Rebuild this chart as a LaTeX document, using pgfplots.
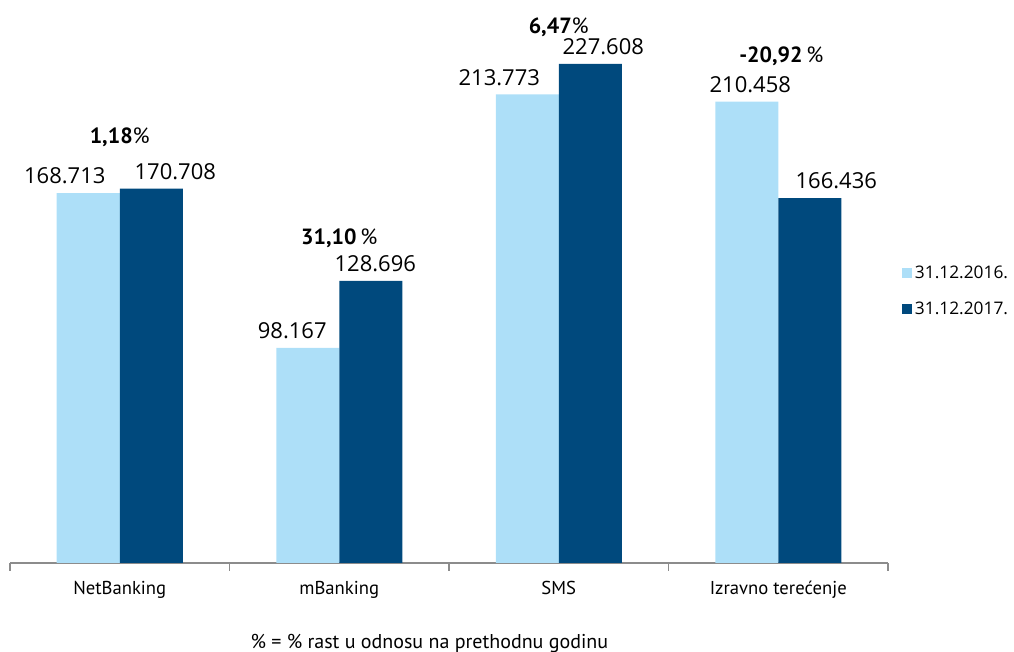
\documentclass[border=0pt]{standalone}
\usepackage{fontspec}
\setmainfont{PT Sans}
\newfontfamily\numfont{Open Sans}
\usepackage{pgfplots}
\usepackage{pgfplotstable}
\pgfplotsset{compat=1.18}
\definecolor{lightbar}{HTML}{ADDFF8}
\definecolor{darkbar}{HTML}{00497D}
\definecolor{axisgray}{HTML}{8C8C8C}

% dx = horizontal offset of the value label, in px
\pgfplotstableread{
x y       label   dx
0 168.713 168.713 -23.5
1 98.167  98.167  -15.5
2 213.773 213.773 -28
3 210.458 210.458 3.5
}\lightdata
\pgfplotstableread{
x y       label   dx
0 170.708 170.708 24
1 128.696 128.696 4.5
2 227.608 227.608 13
3 166.436 166.436 26.5
}\darkdata

\begin{document}
\begin{tikzpicture}
\path[use as bounding box] (-7.5pt,-66.75pt) rectangle (753pt,422.25pt);
\begin{axis}[
    name=main, at={(0,0)}, anchor=south west,
    scale only axis, width=658.5pt, height=422.25pt,
    ybar=0pt, bar width=47.25pt,
    xmin=-0.5, xmax=3.5, ymin=0, ymax=256.8,
    axis x line*=bottom, axis y line=none,
    x axis line style={axisgray, line width=0.9pt},
    xtick={0,1,2,3},
    xticklabels={NetBanking,mBanking,SMS,Izravno terećenje},
    major x tick style={draw=none},
    minor xtick={-0.5,0.5,1.5,2.5,3.5},
    minor tick length=6pt, xtick align=outside,
    minor x tick style={axisgray, line width=0.9pt},
    xticklabel style={font=\fontsize{14}{16}\selectfont, yshift=-6pt},
    point meta=explicit symbolic,
    nodes near coords,
    nodes near coords style={font=\numfont\fontsize{16.5}{18}\selectfont, black,
        inner sep=0pt, yshift=6.5pt, xshift={\dx*0.75pt}},
    legend image code/.code={\fill[#1] (0pt,-4pt) rectangle (8pt,4pt);},
    legend style={draw=none, fill=none, at={(1,0.483)}, anchor=west, xshift=10pt,
        inner sep=0pt, row sep=12pt, font=\numfont\fontsize{13}{14}\selectfont,
        cells={anchor=west}},
]
\addplot[fill=lightbar, draw=none, visualization depends on={\thisrow{dx} \as \dx}]
    table[x=x, y=y, meta=label] {\lightdata};
\addplot[fill=darkbar, draw=none, visualization depends on={\thisrow{dx} \as \dx}]
    table[x=x, y=y, meta=label] {\darkdata};
\legend{31.12.2016., 31.12.2017.}
\node[font=\fontsize{16.5}{18}\selectfont] at (axis cs:0,194.3) {\textbf{1,18}\%};
\node[font=\fontsize{16.5}{18}\selectfont] at (axis cs:1,148.3) {\textbf{31,10}\,\%};
\node[font=\fontsize{16.5}{18}\selectfont] at (axis cs:2,244.2) {\textbf{6,47}\%};
\node[font=\fontsize{16.5}{18}\selectfont] at (axis cs:3.014,231.3) {\textbf{-20,92}\,\%};
\end{axis}
\node[font=\fontsize{15}{17}\selectfont] at (314.5pt,-60pt) {\% = \% rast u odnosu na prethodnu godinu};
\end{tikzpicture}
\end{document}
